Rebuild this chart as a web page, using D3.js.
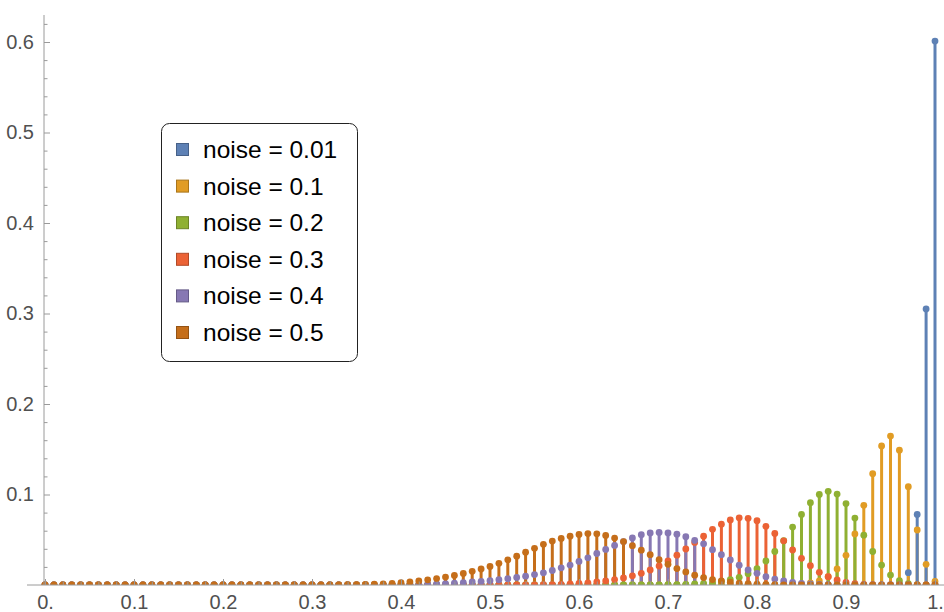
<!DOCTYPE html>
<html>
<head>
<meta charset="utf-8">
<script src="https://cdn.jsdelivr.net/npm/d3@7"></script>
<style>
  body { margin: 0; background: #fff; }
  svg { display: block; font-family: "Liberation Sans", Arial, sans-serif; }
</style>
</head>
<body>
<svg id="chart" width="944" height="612"></svg>
<script>
// Probabilities at x = k/100, k = 0..100. Each series lists its values from
// a start index; everything before and after that stretch reads as 0.
var seriesNames = ["noise = 0.01", "noise = 0.1", "noise = 0.2", "noise = 0.3", "noise = 0.4", "noise = 0.5"];
var seriesColors = ["#5E81B5", "#E19C24", "#8FB032", "#EB6235", "#8778B3", "#C56E1A"];

var noise001Start = 95;
var noise001 = [0.0002, 0.0016, 0.0136, 0.078, 0.305, 0.601];

var noise01Start = 83;
var noise01 = [0.0003, 0.0006, 0.0012, 0.0023, 0.0044, 0.0092, 0.0177, 0.0328, 0.0564, 0.088,
  0.123, 0.1536, 0.1646, 0.149, 0.1087, 0.0608, 0.0228, 0.004];

var noise02Start = 70;
var noise02 = [0.0003, 0.0005, 0.0008, 0.0012, 0.0018, 0.0027, 0.004, 0.0058, 0.0085, 0.0125,
  0.018, 0.0265, 0.037, 0.049, 0.064, 0.078, 0.091, 0.100, 0.1035, 0.1005,
  0.090, 0.074, 0.055, 0.037, 0.022, 0.011, 0.0048, 0.0016, 0.0004, 0.0001];

var noise03Start = 56;
var noise03 = [0.0003, 0.0005, 0.0008, 0.0012, 0.0017, 0.0024, 0.0033, 0.0045, 0.006, 0.0078,
  0.0101, 0.0129, 0.0166, 0.021, 0.0265, 0.033, 0.0398, 0.047, 0.054, 0.0615,
  0.0672, 0.0718, 0.0742, 0.0737, 0.071, 0.0648, 0.057, 0.0488, 0.0387, 0.0295,
  0.0213, 0.014, 0.0092, 0.0055, 0.003, 0.0015, 0.0007, 0.0003, 0.0001];

var noise04Start = 41;
var noise04 = [0.0003, 0.0005, 0.0008, 0.0011, 0.0015, 0.002, 0.0026, 0.0033, 0.004, 0.0048,
  0.0058, 0.007, 0.0083, 0.0098, 0.0115, 0.0135, 0.016, 0.019, 0.022, 0.026,
  0.030, 0.0348, 0.0393, 0.0437, 0.048, 0.052, 0.0555, 0.0575, 0.058, 0.0575,
  0.0562, 0.0533, 0.0493, 0.0455, 0.039, 0.0335, 0.0276, 0.0218, 0.0166, 0.0129,
  0.0092, 0.0066, 0.0045, 0.003, 0.0019, 0.0012, 0.0007, 0.0004, 0.0002, 0.0001];

var noise05Start = 33;
var noise05 = [0.0002, 0.0003, 0.0004, 0.0006, 0.0009, 0.0013, 0.0019, 0.0026, 0.0034, 0.0044,
  0.0057, 0.0071, 0.0088, 0.0106, 0.0127, 0.0151, 0.0177, 0.0205, 0.024, 0.0278,
  0.0318, 0.0362, 0.0405, 0.045, 0.0485, 0.0515, 0.054, 0.0558, 0.0568, 0.0565,
  0.0548, 0.0518, 0.048, 0.0435, 0.0385, 0.0335, 0.028, 0.0228, 0.0182, 0.0145,
  0.0109, 0.0082, 0.006, 0.0044, 0.0031, 0.0021, 0.0014, 0.0009, 0.0006, 0.0004,
  0.0002, 0.0001];

var seriesStarts = [noise001Start, noise01Start, noise02Start, noise03Start, noise04Start, noise05Start];
var seriesValues = [noise001, noise01, noise02, noise03, noise04, noise05];

var kCount = 101;
var yTicks = [0.1, 0.2, 0.3, 0.4, 0.5, 0.6];
var xTicks = [0, 0.1, 0.2, 0.3, 0.4, 0.5, 0.6, 0.7, 0.8, 0.9, 1];

// Expand each series to all 101 positions
function fullSeries(i) {
    var out = [];
    for (var k = 0; k < kCount; k++) {
        var j = k - seriesStarts[i];
        var v = (j >= 0 && j < seriesValues[i].length) ? seriesValues[i][j] : 0;
        out.push({ k: k, x: k / 100, value: v, series: i });
    }
    return out;
}
var allSeries = seriesNames.map(function (d, i) { return fullSeries(i); });

var svg = d3.select("#chart");

var xScale = d3.scaleLinear().domain([0, 1]).range([45, 935]);
var yScale = d3.scaleLinear().domain([0, 0.6]).range([585, 42]);

// Clip at the zero line so the dots sitting on the axis show as half dots
svg.append("defs").append("clipPath").attr("id", "plotClip")
    .append("rect")
    .attr("x", 0).attr("y", 0)
    .attr("width", 944).attr("height", yScale(0));

var plot = svg.append("g").attr("clip-path", "url(#plotClip)");

// Stems: at every position shorter stems first, so the tallest ends on top
var stems = [];
for (var k = 0; k < kCount; k++) {
    var atK = allSeries.map(function (s) { return s[k]; });
    atK.sort(function (a, b) { return a.value - b.value; });
    atK.forEach(function (d) { if (d.value > 0) stems.push(d); });
}

plot.selectAll(".stem")
    .data(stems)
    .enter()
    .append("line")
    .attr("class", "stem")
    .attr("x1", function (d) { return xScale(d.x); })
    .attr("x2", function (d) { return xScale(d.x); })
    .attr("y1", yScale(0))
    .attr("y2", function (d) { return yScale(d.value); })
    .attr("stroke", function (d) { return seriesColors[d.series]; })
    .attr("stroke-width", 3);

// Dots, series by series
allSeries.forEach(function (s, i) {
    plot.append("g").selectAll("circle")
        .data(s)
        .enter()
        .append("circle")
        .attr("cx", function (d) { return xScale(d.x); })
        .attr("cy", function (d) { return yScale(d.value); })
        .attr("r", 3.4)
        .attr("fill", seriesColors[i]);
});

// Axes
var axisColor = "#9a9a9a";
var labelColor = "#505050";

svg.append("line")
    .attr("x1", xScale(0) - 1).attr("x2", xScale(0) - 1)
    .attr("y1", 15).attr("y2", yScale(0))
    .attr("stroke", axisColor).attr("stroke-width", 1);

svg.append("line")
    .attr("x1", 27).attr("x2", 944)
    .attr("y1", yScale(0)).attr("y2", yScale(0))
    .attr("stroke", axisColor).attr("stroke-width", 1);

var yMinor = [];
for (var t = 2; t <= 62; t += 2) { if (t % 10 !== 0) yMinor.push(t / 100); }

var yAxis = d3.axisLeft(yScale)
    .tickValues(yTicks)
    .tickSizeInner(-6)
    .tickSizeOuter(0)
    .tickPadding(10)
    .tickFormat(d3.format(".1f"));

var yMinorAxis = d3.axisLeft(yScale)
    .tickValues(yMinor)
    .tickSizeInner(-3.5)
    .tickSizeOuter(0)
    .tickFormat("");

var xMinor = [];
for (var u = 2; u < 100; u += 2) { if (u % 10 !== 0) xMinor.push(u / 100); }

var xAxis = d3.axisBottom(xScale)
    .tickValues(xTicks)
    .tickSizeInner(-6)
    .tickSizeOuter(0)
    .tickPadding(10)
    .tickFormat(function (d) { return (d === 0 || d === 1) ? d + "." : d3.format(".1f")(d); });

var xMinorAxis = d3.axisBottom(xScale)
    .tickValues(xMinor)
    .tickSizeInner(-3.5)
    .tickSizeOuter(0)
    .tickFormat("");

function styleAxis(g) {
    g.select(".domain").remove();
    g.selectAll(".tick line").attr("stroke", axisColor);
    g.selectAll(".tick text").attr("fill", labelColor).style("font-size", "20px");
}

svg.append("g").attr("transform", "translate(" + (xScale(0) - 1) + ",0)").call(yMinorAxis).call(styleAxis);
svg.append("g").attr("transform", "translate(" + (xScale(0) - 1) + ",0)").call(yAxis).call(styleAxis);
svg.append("g").attr("transform", "translate(0," + yScale(0) + ")").call(xMinorAxis).call(styleAxis);
svg.append("g").attr("transform", "translate(0," + yScale(0) + ")").call(xAxis).call(styleAxis);

// Legend
var legend = svg.append("g").attr("transform", "translate(161,123)");

legend.append("rect")
    .attr("x", 0.5).attr("y", 0.5)
    .attr("width", 196).attr("height", 238)
    .attr("rx", 8).attr("ry", 8)
    .attr("fill", "#fff")
    .attr("stroke", "#222")
    .attr("stroke-width", 1);

legend.selectAll(".swatch")
    .data(seriesNames)
    .enter()
    .append("rect")
    .attr("class", "swatch")
    .attr("x", 15.5)
    .attr("y", function (d, i) { return 20.5 + i * 36.6; })
    .attr("width", 12)
    .attr("height", 12)
    .attr("fill", function (d, i) { return seriesColors[i]; })
    .attr("stroke", function (d, i) { return d3.color(seriesColors[i]).darker(0.8); })
    .attr("stroke-width", 1);

legend.selectAll(".label")
    .data(seriesNames)
    .enter()
    .append("text")
    .attr("class", "label")
    .attr("x", 42)
    .attr("y", function (d, i) { return 35 + i * 36.6; })
    .style("font-size", "24.5px")
    .attr("fill", "#000")
    .text(function (d) { return d; });
</script>
</body>
</html>
